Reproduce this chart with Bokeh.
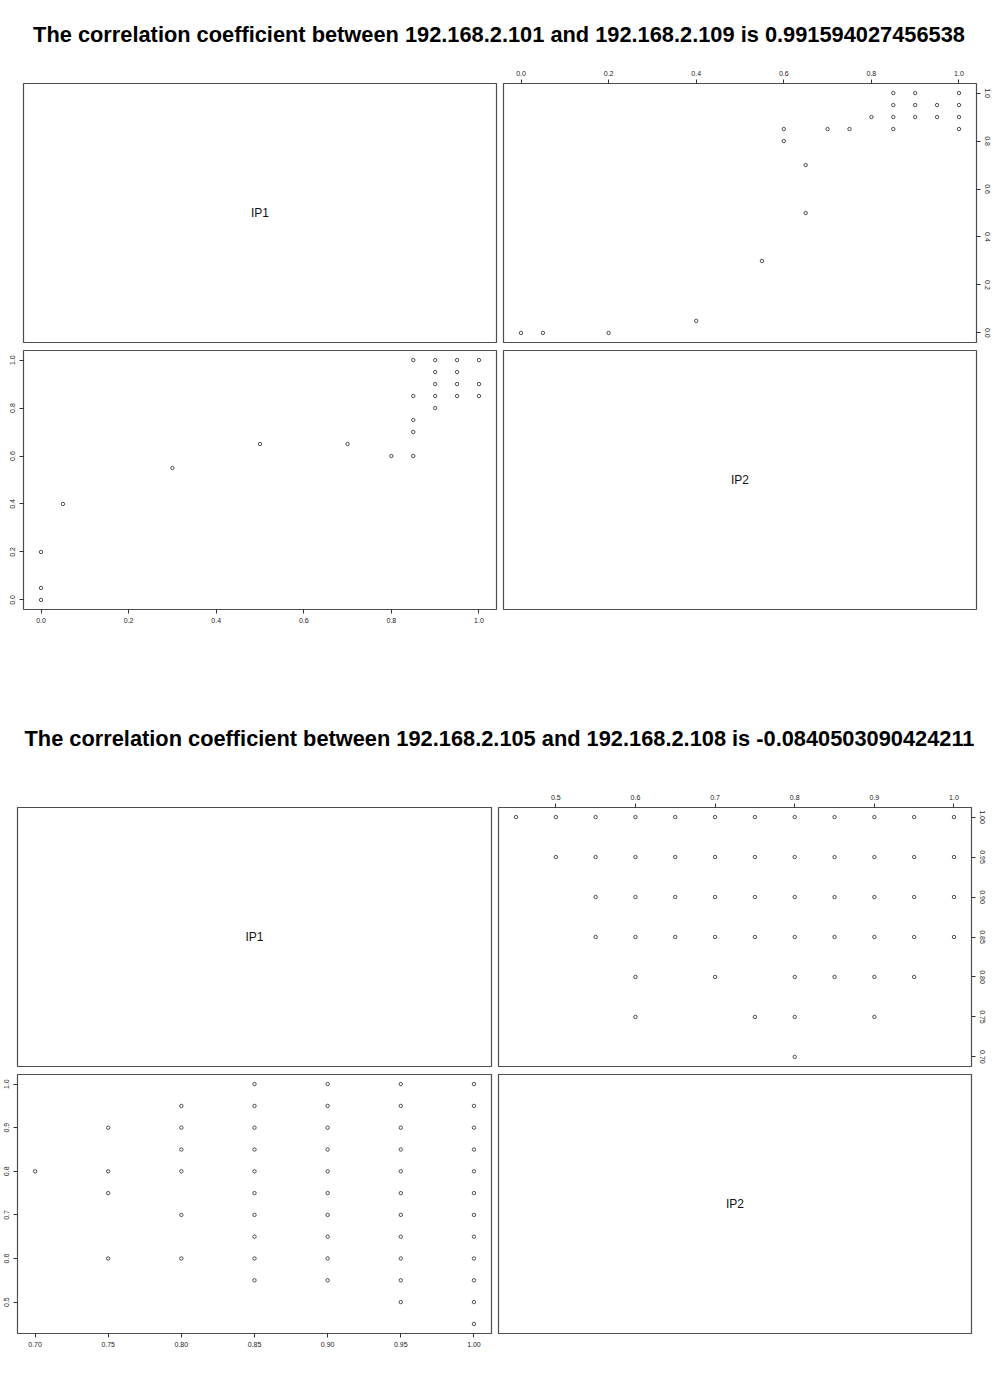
from bokeh.plotting import figure
from bokeh.layouts import column, row
from bokeh.models import Range1d, FixedTicker, PrintfTickFormatter
from bokeh.core.properties import value
from bokeh.embed import file_html
from bokeh.resources import INLINE

# ---------------- data ----------------
TITLE_A = "The correlation coefficient between 192.168.2.101 and 192.168.2.109 is 0.991594027456538"
TITLE_B = "The correlation coefficient between 192.168.2.105 and 192.168.2.108 is -0.0840503090424211"
VAR_NAMES = ["IP1", "IP2"]

ip1_a = [0.00, 0.00, 0.00, 0.05, 0.30, 0.50, 0.70, 0.80,
         0.85, 0.85, 0.85, 0.85, 0.85,
         0.90, 0.90, 0.90, 0.90, 0.90,
         0.95, 0.95, 0.95, 0.95,
         1.00, 1.00, 1.00]
ip2_a = [0.00, 0.05, 0.20, 0.40, 0.55, 0.65, 0.65, 0.60,
         0.60, 0.70, 0.75, 0.85, 1.00,
         0.80, 0.85, 0.90, 0.95, 1.00,
         0.85, 0.90, 0.95, 1.00,
         0.85, 0.90, 1.00]

ip1_b = [0.70,
         0.75, 0.75, 0.75, 0.75,
         0.80, 0.80, 0.80, 0.80, 0.80, 0.80,
         0.85, 0.85, 0.85, 0.85, 0.85, 0.85, 0.85, 0.85, 0.85, 0.85,
         0.90, 0.90, 0.90, 0.90, 0.90, 0.90, 0.90, 0.90, 0.90, 0.90,
         0.95, 0.95, 0.95, 0.95, 0.95, 0.95, 0.95, 0.95, 0.95, 0.95, 0.95,
         1.00, 1.00, 1.00, 1.00, 1.00, 1.00, 1.00, 1.00, 1.00, 1.00, 1.00, 1.00]
ip2_b = [0.80,
         0.60, 0.75, 0.80, 0.90,
         0.60, 0.70, 0.80, 0.85, 0.90, 0.95,
         0.55, 0.60, 0.65, 0.70, 0.75, 0.80, 0.85, 0.90, 0.95, 1.00,
         0.55, 0.60, 0.65, 0.70, 0.75, 0.80, 0.85, 0.90, 0.95, 1.00,
         0.50, 0.55, 0.60, 0.65, 0.70, 0.75, 0.80, 0.85, 0.90, 0.95, 1.00,
         0.45, 0.50, 0.55, 0.60, 0.65, 0.70, 0.75, 0.80, 0.85, 0.90, 0.95, 1.00]

ticks_a_ip1 = [0.0, 0.2, 0.4, 0.6, 0.8, 1.0]
ticks_a_ip2 = [0.0, 0.2, 0.4, 0.6, 0.8, 1.0]
ticks_b_ip1 = [0.70, 0.75, 0.80, 0.85, 0.90, 0.95, 1.00]
ticks_b_ip2 = [0.5, 0.6, 0.7, 0.8, 0.9, 1.0]

# ---------------- styling ----------------
FONT = "Liberation Sans"
FRAME_COLOR = "#4d4d4d"
PT_COLOR = "#262626"
TICK_COLOR = "#333333"


def r_range(vals):
    lo, hi = min(vals), max(vals)
    pad = 0.04 * (hi - lo)
    return Range1d(lo - pad, hi + pad)


def base_fig(fw, fh, b, xr, yr, xloc=None, yloc=None):
    p = figure(frame_width=fw, frame_height=fh, x_range=xr, y_range=yr,
               output_backend="svg", toolbar_location=None, title=None,
               x_axis_location=xloc, y_axis_location=yloc,
               min_border_left=b[0], min_border_right=b[1],
               min_border_top=b[2], min_border_bottom=b[3])
    p.xgrid.visible = False
    p.ygrid.visible = False
    p.outline_line_color = FRAME_COLOR
    p.outline_line_width = 1.2
    p.background_fill_color = "white"
    p.border_fill_color = "white"
    return p


def style_axis(ax, ticks, fmt, vertical=False):
    ax.ticker = FixedTicker(ticks=ticks)
    ax.formatter = PrintfTickFormatter(format=fmt)
    ax.axis_line_color = None
    ax.major_tick_in = 0
    ax.major_tick_out = 4
    ax.major_tick_line_color = TICK_COLOR
    ax.minor_tick_line_color = None
    ax.major_label_standoff = 4
    ax.major_label_text_font = FONT
    ax.major_label_text_font_size = "7px"
    ax.major_label_text_color = "#222222"
    if vertical:
        ax.major_label_orientation = "vertical"


def scatter_panel(x, y, fw, fh, b, xloc, yloc, xticks, yticks, xfmt, yfmt):
    p = base_fig(fw, fh, b, r_range(x), r_range(y), xloc, yloc)
    style_axis(p.xaxis[0], xticks, xfmt)
    style_axis(p.yaxis[0], yticks, yfmt, vertical=True)
    p.scatter(x=x, y=y, marker="circle", size=3.4, fill_color=None,
              line_color=PT_COLOR, line_width=0.8)
    return p


def diag_panel(name, fw, fh, b):
    xr = Range1d(0, 1)
    yr = Range1d(0, 1)
    p = base_fig(fw, fh, b, xr, yr)
    cx = (xr.start + xr.end) / 2
    cy = (yr.start + yr.end) / 2
    p.text(x=[cx], y=[cy], text=[name], text_align="center",
           text_baseline="middle", text_font=value(FONT),
           text_font_size="12px", text_color="#111111")
    return p


def title_fig(text, w, h, center_from_top, cx, size):
    p = figure(frame_width=w, frame_height=h, x_range=Range1d(0, w),
               y_range=Range1d(0, h), title=None,
               output_backend="svg", toolbar_location=None,
               x_axis_location=None, y_axis_location=None,
               min_border=0, min_border_left=0, min_border_right=0,
               min_border_top=0, min_border_bottom=0)
    p.xgrid.visible = False
    p.ygrid.visible = False
    p.outline_line_color = None
    p.text(x=[cx], y=[h - center_from_top], text=[text],
           text_align="center", text_baseline="middle",
           text_font=value(FONT), text_font_style="bold",
           text_font_size=size, text_color="#000000")
    return p


# ---------------- first pairs plot ----------------
FH = 259
tA = title_fig(TITLE_A, 1004, 50, 34, 498.5, "21.8px")
a11 = diag_panel(VAR_NAMES[0], 473, FH, (23, 4, 33, 4))
a12 = scatter_panel(ip2_a, ip1_a, 473, FH, (3, 28, 33, 4), "above", "right",
                    ticks_a_ip2, ticks_a_ip1, "%.1f", "%.1f")
a21 = scatter_panel(ip1_a, ip2_a, 473, FH, (23, 4, 4, 37), "below", "left",
                    ticks_a_ip1, ticks_a_ip2, "%.1f", "%.1f")
a22 = diag_panel(VAR_NAMES[1], 473, FH, (3, 28, 4, 37))

# ---------------- second pairs plot ----------------
tB = title_fig(TITLE_B, 1004, 124, 92, 499, "21.8px")
b11 = diag_panel(VAR_NAMES[0], 474, FH, (17, 3, 37, 4))
b12 = scatter_panel(ip2_b, ip1_b, 473, FH, (4, 33, 37, 4), "above", "right",
                    ticks_b_ip2, ticks_b_ip1, "%.1f", "%.2f")
b21 = scatter_panel(ip1_b, ip2_b, 474, FH, (17, 3, 4, 40), "below", "left",
                    ticks_b_ip1, ticks_b_ip2, "%.2f", "%.1f")
b22 = diag_panel(VAR_NAMES[1], 473, FH, (4, 33, 4, 40))

layout = column(
    tA,
    row(a11, a12, spacing=0),
    row(a21, a22, spacing=0),
    tB,
    row(b11, b12, spacing=0),
    row(b21, b22, spacing=0),
    spacing=0,
)

open("out.html", "w").write(file_html(layout, INLINE, title="pairs"))
